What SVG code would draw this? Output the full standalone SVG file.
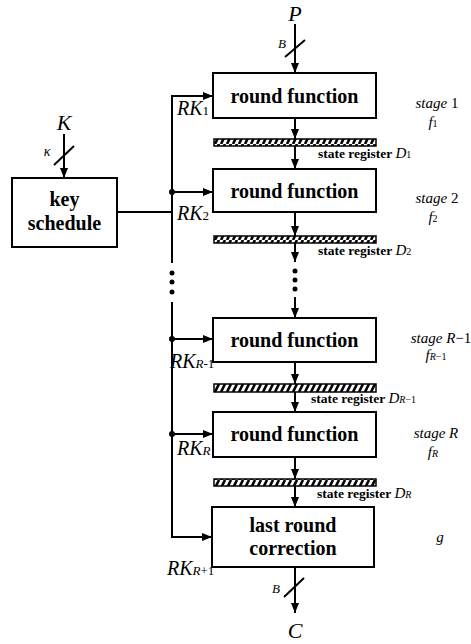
<svg xmlns="http://www.w3.org/2000/svg" width="471" height="644" viewBox="0 0 471 644">
  <defs>
    <marker id="ah" viewBox="0 0 10 10" refX="10" refY="5" markerWidth="5" markerHeight="5" orient="auto" markerUnits="strokeWidth">
      <path d="M0,1 L10,5 L0,9 z" fill="#000"/>
    </marker>
    <pattern id="hatch" width="6" height="8" patternUnits="userSpaceOnUse">
      <rect width="6" height="8" fill="#fff"/>
      <path d="M-1,8 L3,0 M5,8 L9,0" stroke="#000" stroke-width="2.6"/>
    </pattern>
  </defs>

  <!-- signal flow and key bus -->
  <g id="connectors" fill="none" stroke="#000" stroke-width="2">
    <!-- plaintext input -->
    <path marker-end="url(#ah)" d="M295,24 V73"/>
    <path d="M285,57 L305,40"/>
    <!-- datapath between stages -->
    <path marker-end="url(#ah)" d="M295,118 V139"/>
    <path marker-end="url(#ah)" d="M295,146 V169"/>
    <path marker-end="url(#ah)" d="M295,212 V236"/>
    <path marker-end="url(#ah)" d="M295,243 V262"/>
    <path marker-end="url(#ah)" d="M295,297 V318"/>
    <path marker-end="url(#ah)" d="M295,362 V384"/>
    <path marker-end="url(#ah)" d="M295,392 V412"/>
    <path marker-end="url(#ah)" d="M295,457 V479"/>
    <path marker-end="url(#ah)" d="M295,486 V507"/>
    <!-- ciphertext output -->
    <path marker-end="url(#ah)" d="M295,567 V613"/>
    <path d="M284,597 L304,578"/>
    <!-- key input -->
    <path marker-end="url(#ah)" d="M64,134 V178"/>
    <path d="M54,165 L74,146"/>
    <!-- round key bus -->
    <path d="M117,212 H172"/>
    <path d="M172,96 V263"/>
    <path d="M172,302 V537"/>
    <path marker-end="url(#ah)" d="M171,96 H213"/>
    <path marker-end="url(#ah)" d="M172,192 H213"/>
    <path marker-end="url(#ah)" d="M172,339 H213"/>
    <path marker-end="url(#ah)" d="M172,434 H213"/>
    <path marker-end="url(#ah)" d="M171,537 H212"/>
    <g fill="#000" stroke="none">
      <circle cx="295" cy="271" r="2.5"/>
      <circle cx="295" cy="280" r="2.5"/>
      <circle cx="295" cy="289" r="2.5"/>
      <circle cx="172" cy="273" r="2.5"/>
      <circle cx="172" cy="282" r="2.5"/>
      <circle cx="172" cy="292" r="2.5"/>
      <circle cx="172" cy="192" r="3"/>
      <circle cx="172" cy="339" r="3"/>
      <circle cx="172" cy="434" r="3"/>
    </g>
  </g>

  <!-- external labels -->
  <g id="io-labels" fill="#000">
    <text style="font-family:'Liberation Serif','Times New Roman',serif !important" font-style="italic" x="295" y="21" font-size="22" text-anchor="middle">P</text>
    <text style="font-family:'Liberation Serif','Times New Roman',serif !important" font-style="italic" x="282" y="48" font-size="13" text-anchor="middle">B</text>
    <text style="font-family:'Liberation Serif','Times New Roman',serif !important" font-style="italic" x="64" y="130" font-size="22" text-anchor="middle">K</text>
    <text style="font-family:'Liberation Serif','Times New Roman',serif !important" font-style="italic" x="47" y="156" font-size="14" text-anchor="middle">κ</text>
    <text style="font-family:'Liberation Serif','Times New Roman',serif !important" font-style="italic" x="276" y="593" font-size="13" text-anchor="middle">B</text>
    <text style="font-family:'Liberation Serif','Times New Roman',serif !important" font-style="italic" x="295" y="638" font-size="22" text-anchor="middle">C</text>
    <text style="font-family:'Liberation Serif','Times New Roman',serif !important" font-style="italic" x="177" y="115" font-size="20">RK<tspan font-style="normal" font-size="13">1</tspan></text>
    <text style="font-family:'Liberation Serif','Times New Roman',serif !important" font-style="italic" x="177" y="220" font-size="20">RK<tspan font-style="normal" font-size="13">2</tspan></text>
    <text style="font-family:'Liberation Serif','Times New Roman',serif !important" font-style="italic" x="170" y="368" font-size="20">RK<tspan font-size="13">R</tspan><tspan font-style="normal" font-size="13">-1</tspan></text>
    <text style="font-family:'Liberation Serif','Times New Roman',serif !important" font-style="italic" x="177" y="455" font-size="20">RK<tspan font-size="13">R</tspan></text>
    <text style="font-family:'Liberation Serif','Times New Roman',serif !important" font-style="italic" x="167" y="575" font-size="20">RK<tspan font-size="13">R</tspan><tspan font-style="normal" font-size="13">+1</tspan></text>
  </g>

  <g id="key-schedule">
    <rect x="12" y="178" width="105" height="69" fill="#fff" stroke="#000" stroke-width="2"/>
    <text style="font-family:'Liberation Serif','Times New Roman',serif !important" font-weight="bold" font-size="20" text-anchor="middle" x="64.5" y="206">key</text>
    <text style="font-family:'Liberation Serif','Times New Roman',serif !important" font-weight="bold" font-size="20" text-anchor="middle" x="64.5" y="230">schedule</text>
  </g>

  <g id="round-1">
    <rect x="213" y="73" width="163" height="45" fill="#fff" stroke="#000" stroke-width="2"/>
    <text style="font-family:'Liberation Serif','Times New Roman',serif !important" font-weight="bold" font-size="20" text-anchor="middle" x="294.5" y="103">round function</text>
  </g>
  <g id="register-1">
    <rect x="214" y="139" width="162" height="7" fill="url(#hatch)" stroke="#000" stroke-width="1.5"/>
    <text style="font-family:'Liberation Serif','Times New Roman',serif !important" font-weight="bold" font-size="13.5" x="318" y="158">state register <tspan font-style="italic" font-weight="normal" font-size="15">D</tspan><tspan font-weight="normal" font-size="10">1</tspan></text>
  </g>

  <g id="round-2">
    <rect x="213" y="169" width="163" height="43" fill="#fff" stroke="#000" stroke-width="2"/>
    <text style="font-family:'Liberation Serif','Times New Roman',serif !important" font-weight="bold" font-size="20" text-anchor="middle" x="294.5" y="198">round function</text>
  </g>
  <g id="register-2">
    <rect x="214" y="236" width="162" height="7" fill="url(#hatch)" stroke="#000" stroke-width="1.5"/>
    <text style="font-family:'Liberation Serif','Times New Roman',serif !important" font-weight="bold" font-size="13.5" x="318" y="255">state register <tspan font-style="italic" font-weight="normal" font-size="15">D</tspan><tspan font-weight="normal" font-size="10">2</tspan></text>
  </g>

  <g id="round-r-1">
    <rect x="213" y="318" width="163" height="44" fill="#fff" stroke="#000" stroke-width="2"/>
    <text style="font-family:'Liberation Serif','Times New Roman',serif !important" font-weight="bold" font-size="20" text-anchor="middle" x="294.5" y="347">round function</text>
  </g>
  <g id="register-r-1">
    <rect x="214" y="384" width="162" height="8" fill="url(#hatch)" stroke="#000" stroke-width="1.5"/>
    <text style="font-family:'Liberation Serif','Times New Roman',serif !important" font-weight="bold" font-size="13.5" x="311" y="403">state register <tspan font-style="italic" font-weight="normal" font-size="15">D</tspan><tspan font-style="italic" font-weight="normal" font-size="10">R</tspan><tspan font-weight="normal" font-size="10">−1</tspan></text>
  </g>

  <g id="round-r">
    <rect x="213" y="412" width="163" height="45" fill="#fff" stroke="#000" stroke-width="2"/>
    <text style="font-family:'Liberation Serif','Times New Roman',serif !important" font-weight="bold" font-size="20" text-anchor="middle" x="294.5" y="441">round function</text>
  </g>
  <g id="register-r">
    <rect x="214" y="479" width="162" height="7" fill="url(#hatch)" stroke="#000" stroke-width="1.5"/>
    <text style="font-family:'Liberation Serif','Times New Roman',serif !important" font-weight="bold" font-size="13.5" x="317" y="498">state register <tspan font-style="italic" font-weight="normal" font-size="15">D</tspan><tspan font-style="italic" font-weight="normal" font-size="10">R</tspan></text>
  </g>

  <g id="last-round">
    <rect x="212" y="507" width="162" height="60" fill="#fff" stroke="#000" stroke-width="2"/>
    <text style="font-family:'Liberation Serif','Times New Roman',serif !important" font-weight="bold" font-size="20" text-anchor="middle" x="293" y="532">last round</text>
    <text style="font-family:'Liberation Serif','Times New Roman',serif !important" font-weight="bold" font-size="20" text-anchor="middle" x="293" y="555">correction</text>
  </g>

  <!-- stage annotations -->
  <g id="stage-labels" fill="#000">
    <text style="font-family:'Liberation Serif','Times New Roman',serif !important" font-style="italic" x="437" y="108" font-size="15" text-anchor="middle">stage <tspan font-style="normal">1</tspan></text>
    <text style="font-family:'Liberation Serif','Times New Roman',serif !important" font-style="italic" x="433" y="127" font-size="15" text-anchor="middle">f<tspan font-style="normal" font-size="10">1</tspan></text>
    <text style="font-family:'Liberation Serif','Times New Roman',serif !important" font-style="italic" x="437" y="203" font-size="15" text-anchor="middle">stage <tspan font-style="normal">2</tspan></text>
    <text style="font-family:'Liberation Serif','Times New Roman',serif !important" font-style="italic" x="433" y="222" font-size="15" text-anchor="middle">f<tspan font-style="normal" font-size="10">2</tspan></text>
    <text style="font-family:'Liberation Serif','Times New Roman',serif !important" font-style="italic" x="441" y="343" font-size="15" text-anchor="middle">stage R<tspan font-style="normal">−1</tspan></text>
    <text style="font-family:'Liberation Serif','Times New Roman',serif !important" font-style="italic" x="436" y="360" font-size="15" text-anchor="middle">f<tspan font-size="10">R</tspan><tspan font-style="normal" font-size="10">−1</tspan></text>
    <text style="font-family:'Liberation Serif','Times New Roman',serif !important" font-style="italic" x="436" y="438" font-size="15" text-anchor="middle">stage R</text>
    <text style="font-family:'Liberation Serif','Times New Roman',serif !important" font-style="italic" x="433" y="457" font-size="15" text-anchor="middle">f<tspan font-size="10">R</tspan></text>
    <text style="font-family:'Liberation Serif','Times New Roman',serif !important" font-style="italic" x="440" y="542" font-size="15" text-anchor="middle">g</text>
  </g>
</svg>
